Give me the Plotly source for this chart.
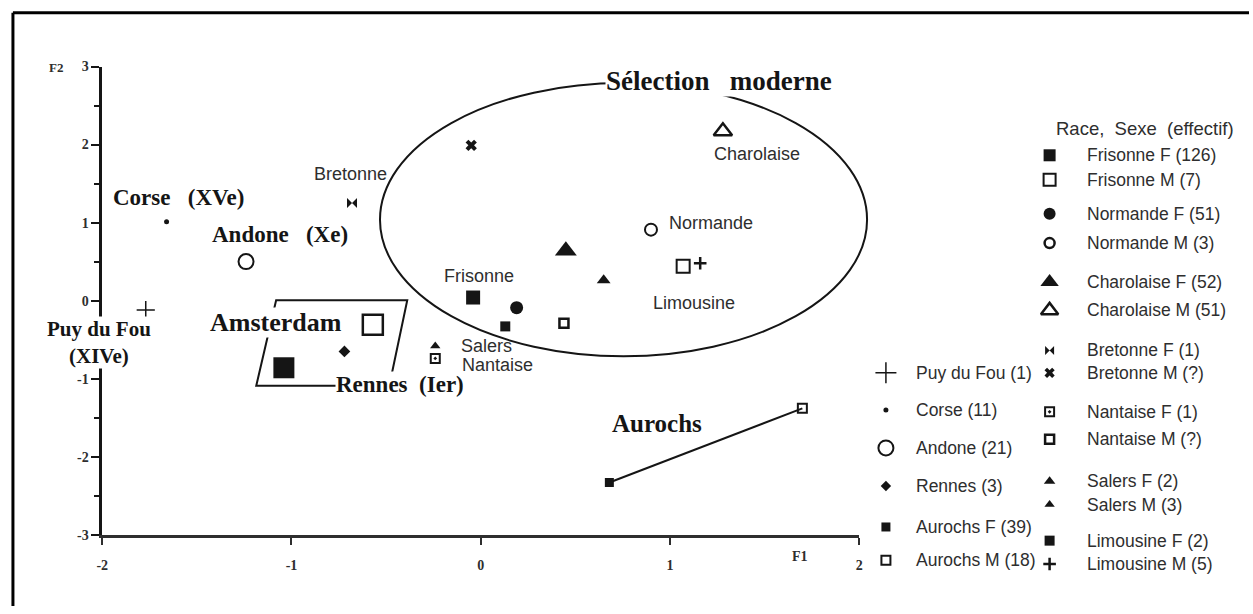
"""
plot.py
===============================================================================
Plan factoriel F1 x F2 : races bovines modernes et echantillons anciens
(Corse, Andone, Puy du Fou, Amsterdam, Rennes, Aurochs), redrawn in Plotly.
-------------------------------------------------------------------------------
"""

import plotly.graph_objects as go

W, H = 1253, 614
INK = "#151515"
GREY = "#2e2e2e"
SERIF = "Liberation Serif, Times New Roman, serif"
SANS = "Liberation Sans, Arial, Helvetica, sans-serif"
NB = "\u00a0"

# ---------------------------------------------------------------------------
# Data (coordinates on the F1 / F2 plane)
# ---------------------------------------------------------------------------

POINT_NAMES = [
    "Puy du Fou", "Corse", "Andone", "Rennes",
    "Amsterdam F", "Amsterdam M",
    "Bretonne F", "Bretonne M",
    "Frisonne F", "Normande F", "Limousine F", "Nantaise M",
    "Charolaise F", "Salers M", "Normande M", "Frisonne M",
    "Limousine M", "Charolaise M",
    "Salers F", "Nantaise F",
    "Aurochs F", "Aurochs M",
]
F1 = [-1.77, -1.66, -1.24, -0.72,
      -1.04, -0.57,
      -0.68, -0.05,
      -0.04, 0.19, 0.13, 0.44,
      0.45, 0.65, 0.90, 1.07,
      1.16, 1.28,
      -0.24, -0.24,
      0.68, 1.70]
F2 = [-0.12, 1.01, 0.50, -0.65,
      -0.86, -0.31,
      1.25, 1.99,
      0.04, -0.09, -0.33, -0.29,
      0.64, 0.26, 0.91, 0.44,
      0.48, 2.17,
      -0.58, -0.74,
      -2.33, -1.38]

X_TICKS = [-2, -1, 0, 1, 2]
Y_TICKS = [-3, -2, -1, 0, 1, 2, 3]

LEGEND_TITLE = f"Race,{NB}{NB}Sexe{NB}{NB}(effectif)"
LEGEND_RIGHT = [
    "Frisonne F (126)", "Frisonne M (7)",
    "Normande F (51)", "Normande M (3)",
    "Charolaise F (52)", "Charolaise M (51)",
    "Bretonne F (1)", "Bretonne M (?)",
    "Nantaise F (1)", "Nantaise M (?)",
    "Salers F (2)", "Salers M (3)",
    "Limousine F (2)", "Limousine M (5)",
]
LEGEND_LEFT = [
    "Puy du Fou (1)", "Corse (11)", "Andone (21)",
    "Rennes (3)", "Aurochs F (39)", "Aurochs M (18)",
]

# ---------------------------------------------------------------------------
# Styles
# ---------------------------------------------------------------------------

# name -> (symbol, size, outline width)
POINT_STYLE = {
    "Puy du Fou": ("cross-thin-open", 13, 1.5),
    "Corse": ("circle", 5, 0),
    "Andone": ("circle-open", 15, 2),
    "Rennes": ("diamond", 9, 0),
    "Amsterdam F": ("square", 21, 0),
    "Amsterdam M": ("square-open", 20, 2.5),
    "Bretonne F": ("bowtie", 10, 0),
    "Bretonne M": ("x", 10, 0),
    "Frisonne F": ("square", 14, 0),
    "Normande F": ("circle", 13, 0),
    "Limousine F": ("square", 10, 0),
    "Nantaise M": ("square-open", 9, 2.5),
    "Charolaise F": ("triangle-up", 19, 0),
    "Salers M": ("triangle-up", 12, 0),
    "Normande M": ("circle-open", 12, 2),
    "Frisonne M": ("square-open", 13, 2),
    "Limousine M": ("cross-thin-open", 9, 2.5),
    "Charolaise M": ("triangle-up-open", 16, 2.5),
    "Salers F": ("triangle-up", 9, 0),
    "Nantaise F": ("square-open-dot", 9, 2),
    "Aurochs F": ("square", 9, 0),
    "Aurochs M": ("square-open", 9, 2),
}

LEGEND_RIGHT_STYLE = [
    ("square", 12, 0), ("square-open", 12, 2),
    ("circle", 12, 0), ("circle-open", 10, 2.5),
    ("triangle-up", 16, 0), ("triangle-up-open", 15, 2.5),
    ("bowtie", 9, 0), ("x", 9, 0),
    ("square-open-dot", 9, 2), ("square-open", 9, 2.5),
    ("triangle-up", 10, 0), ("triangle-up", 9, 0),
    ("square", 10, 0), ("cross-thin-open", 9, 2.5),
]
LEGEND_LEFT_STYLE = [
    ("cross-thin-open", 15, 1.5), ("circle", 5, 0), ("circle-open", 15, 2),
    ("diamond", 8, 0), ("square", 9, 0), ("square-open", 9, 2),
]

# legend layout, in page pixels
LEG_RIGHT_SYM_X, LEG_RIGHT_TXT_X = 1052, 1088
LEG_LEFT_SYM_X, LEG_LEFT_TXT_X = 887, 915
LEG_RIGHT_ROWS = [152, 177, 212, 242, 282, 311, 352, 375,
                  415, 443, 486, 510, 547, 571]
LEG_LEFT_ROWS = [375, 413, 452, 491, 533, 567]

# plot area in page pixels
PX_LEFT, PX_RIGHT, PX_TOP, PX_BOTTOM = 97, 860, 61, 541


def bold_label(text, x, y, size=23, bg=None, ref="x"):
    """Bold serif group label (F1/F2 coordinates, or page pixels)."""
    ann = dict(text=text, x=x, y=y, showarrow=False,
               xref="x" if ref == "x" else "x2",
               yref="y" if ref == "x" else "y2",
               font=dict(family=SERIF, size=size, color=INK, weight="bold"),
               borderpad=0)
    if bg:
        ann["bgcolor"] = bg
    return ann


def small_label(text, x, y):
    """Light sans-serif breed label placed in F1/F2 coordinates."""
    return dict(text=text, x=x, y=y, xref="x", yref="y", showarrow=False,
                font=dict(family=SANS, size=18, color=GREY))


def page_text(text, x, y, size=17.5, family=SANS, xanchor="left",
              weight="normal"):
    """Text placed in page pixels through the overlay axes."""
    return dict(text=text, x=x, y=y, xref="x2", yref="y2", showarrow=False,
                xanchor=xanchor, yanchor="middle",
                font=dict(family=family, size=size, color=GREY,
                          weight=weight))


# ---------------------------------------------------------------------------
# Figure
# ---------------------------------------------------------------------------

fig = go.Figure()

# line joining the two aurochs points
aur = [POINT_NAMES.index("Aurochs F"), POINT_NAMES.index("Aurochs M")]
fig.add_trace(go.Scatter(
    x=[F1[i] for i in aur], y=[F2[i] for i in aur], mode="lines",
    line=dict(color=INK, width=2), hoverinfo="skip", showlegend=False,
))

fig.add_trace(go.Scatter(
    x=F1, y=F2, mode="markers", text=POINT_NAMES, hoverinfo="text",
    showlegend=False, cliponaxis=False,
    marker=dict(
        symbol=[POINT_STYLE[n][0] for n in POINT_NAMES],
        size=[POINT_STYLE[n][1] for n in POINT_NAMES],
        color=INK, opacity=1,
        line=dict(color=INK, width=[POINT_STYLE[n][2] for n in POINT_NAMES]),
    ),
))

# hand-made two-column legend, drawn on a pixel-space overlay
leg_styles = LEGEND_RIGHT_STYLE + LEGEND_LEFT_STYLE
fig.add_trace(go.Scatter(
    x=[LEG_RIGHT_SYM_X] * len(LEGEND_RIGHT) + [LEG_LEFT_SYM_X] * len(LEGEND_LEFT),
    y=LEG_RIGHT_ROWS + LEG_LEFT_ROWS,
    xaxis="x2", yaxis="y2", mode="markers", hoverinfo="skip",
    showlegend=False,
    marker=dict(symbol=[s[0] for s in leg_styles],
                size=[s[1] for s in leg_styles], color=INK, opacity=1,
                line=dict(color=INK, width=[s[2] for s in leg_styles])),
))

annotations = [
    bold_label(f"Corse{NB}{NB}{NB}(XVe)", -1.596, 1.316),
    bold_label(f"Andone{NB}{NB}{NB}(Xe)", -1.06, 0.842),
    # Puy du Fou sits left of F1 = -2, so it is placed in page pixels
    bold_label("Puy du Fou<br>(XIVe)", 94, 344, size=21, ref="page",
               bg="white"),
    bold_label("Amsterdam", -1.081, -0.28, size=26, bg="white"),
    bold_label(f"Rennes{NB}{NB}(Ier)", -0.425, -1.08, bg="white"),
    bold_label(f"Sélection{NB}{NB}{NB}moderne", 1.26, 2.81, size=27,
               bg="white"),
    bold_label("Aurochs", 0.934, -1.58, size=25),
    small_label("Bretonne", -0.688, 1.628),
    small_label("Frisonne", -0.01, 0.32),
    small_label("Salers", 0.031, -0.58),
    small_label("Nantaise", 0.089, -0.83),
    small_label("Normande", 1.218, 0.99),
    small_label("Charolaise", 1.459, 1.877),
    small_label("Limousine", 1.129, -0.03),
    page_text("F2", 50, 62, size=13, family=SERIF, xanchor="center",
              weight="bold"),
    page_text("F1", 800, 563, size=14, family=SERIF, xanchor="center",
              weight="bold"),
    page_text(LEGEND_TITLE, 1148, 125, size=18.5, xanchor="center"),
]
for txt, row in zip(LEGEND_RIGHT, LEG_RIGHT_ROWS):
    annotations.append(page_text(txt, LEG_RIGHT_TXT_X, row))
for txt, row in zip(LEGEND_LEFT, LEG_LEFT_ROWS):
    annotations.append(page_text(txt, LEG_LEFT_TXT_X, row))

shapes = [
    # "Sélection moderne" envelope (page pixels, it spills past F1 = 2)
    dict(type="circle", xref="x2", yref="y2", x0=377, x1=868,
         y0=78, y1=358, line=dict(color=INK, width=2)),
    # Amsterdam / Rennes quadrilateral
    dict(type="path", xref="x", yref="y",
         path="M -1.081,0.006 L -0.388,0.006 L -0.483,-1.091 "
              "L -1.186,-1.091 Z",
         line=dict(color=INK, width=2)),
    # frame of the scanned page (left and top edges)
    dict(type="line", xref="x2", yref="y2", x0=7, x1=7, y0=6, y1=H,
         line=dict(color="black", width=3)),
    dict(type="line", xref="x2", yref="y2", x0=7, x1=W, y0=6, y1=6,
         line=dict(color="black", width=3)),
]

tick_font = dict(family=SERIF, size=14, color=GREY, weight="bold")

fig.update_layout(
    width=W, height=H,
    margin=dict(l=0, r=0, t=0, b=0),
    paper_bgcolor="white", plot_bgcolor="rgba(0,0,0,0)",
    showlegend=False,
    annotations=annotations,
    shapes=shapes,
    xaxis=dict(
        domain=[PX_LEFT / W, PX_RIGHT / W], range=[-2, 2],
        showgrid=False, zeroline=False,
        showline=True, linecolor=GREY, linewidth=3,
        ticks="outside", ticklen=7, tickwidth=2, tickcolor=GREY,
        tickvals=X_TICKS, ticktext=[str(v) for v in X_TICKS],
        tickfont=tick_font, ticklabelstandoff=8,
    ),
    yaxis=dict(
        domain=[(H - PX_BOTTOM) / H, (H - PX_TOP) / H], range=[-3, 3],
        showgrid=False, zeroline=False,
        showline=True, linecolor=INK, linewidth=2.5,
        ticks="outside", ticklen=8, tickwidth=2, tickcolor=INK,
        tickvals=Y_TICKS, ticktext=[str(v) for v in Y_TICKS],
        tickfont=tick_font,
        minor=dict(dtick=0.5, ticks="outside", ticklen=5, tickwidth=2,
                   tickcolor=INK),
    ),
    xaxis2=dict(domain=[0, 1], range=[0, W], visible=False, anchor="y2",
                fixedrange=True),
    yaxis2=dict(domain=[0, 1], range=[H, 0], visible=False, anchor="x2",
                fixedrange=True),
)

# the page body keeps its default 8px margin otherwise
fig.write_html("out.html",
               config={"displayModeBar": False},
               post_script="document.body.style.margin='0';"
                           "document.body.style.overflow='hidden';")
